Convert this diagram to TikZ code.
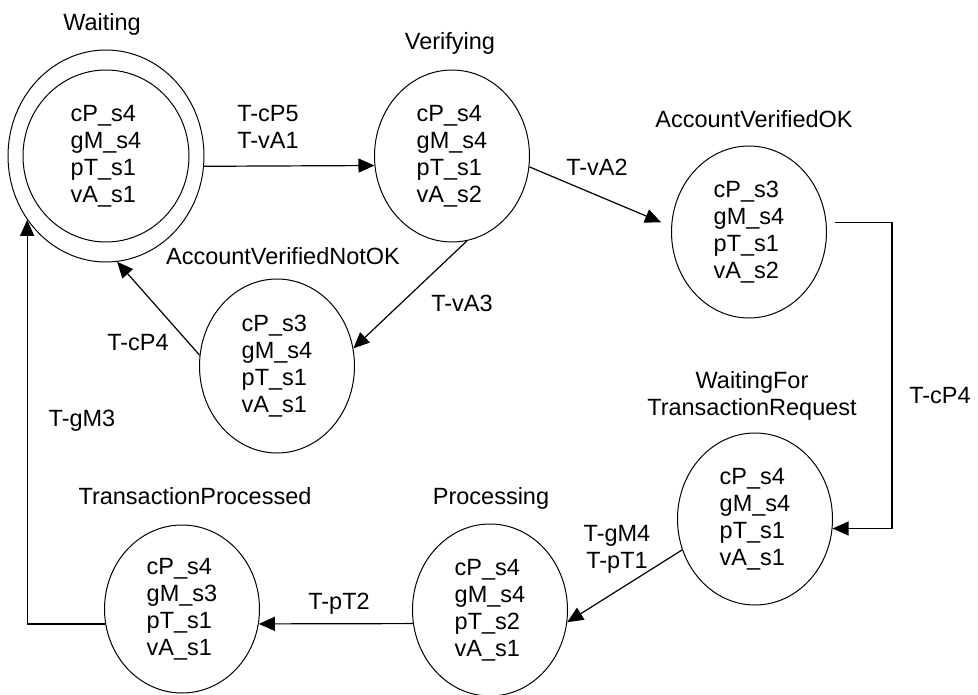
\documentclass[tikz,border=0pt]{standalone}
\usepackage{fontspec}
\setmainfont{Liberation Sans}
\usetikzlibrary{arrows.meta,shapes.geometric}

\tikzset{
  state/.style={draw,ellipse,line width=1pt,inner sep=0pt,align=left,
    minimum width=155pt,minimum height=172pt},
  title/.style={inner sep=0pt,align=center},
  trans/.style={line width=1.2pt,-{Triangle[length=16pt,width=14pt]}},
}

\begin{document}
\begin{tikzpicture}[x=1pt,y=-1pt,font=\fontsize{23.5}{27}\selectfont]
\useasboundingbox (0,0) rectangle (978,695);
% states
\node[state,minimum width=196pt,minimum height=212pt] (wait) at (106,156) {};
\node[state,minimum width=166pt,minimum height=172pt] (waitin) at (wait)
  {cP\_s4\\gM\_s4\\pT\_s1\\vA\_s1};
\node[state] (ver) at (452,156) {cP\_s4\\gM\_s4\\pT\_s1\\vA\_s2};
\node[state] (avok) at (749,232) {cP\_s3\\gM\_s4\\pT\_s1\\vA\_s2};
\node[state,minimum height=174pt] (avnok) at (277,366) {cP\_s3\\gM\_s4\\pT\_s1\\vA\_s1};
\node[state] (wftr) at (755,519) {cP\_s4\\gM\_s4\\pT\_s1\\vA\_s1};
\node[state] (proc) at (490,610) {cP\_s4\\gM\_s4\\pT\_s2\\vA\_s1};
\node[state,minimum height=168pt] (tp) at (182,609) {cP\_s4\\gM\_s3\\pT\_s1\\vA\_s1};
% state names
\node[title] (waitT) at (102,24) {Waiting};
\node[title] (verT) at (450,43) {Verifying};
\node[title] (avokT) at (754,119) {AccountVerifiedOK};
\node[title] (avnokT) at (283,256) {AccountVerifiedNotOK};
\node[title] (wftrT) at (752,396) {WaitingFor\\TransactionRequest};
\node[title] (procT) at (491,498) {Processing};
\node[title] (tpT) at (195,496) {TransactionProcessed};
% transitions
\coordinate (rt) at (892,0);
\draw[trans] (wait.-6) -- (ver.187);
\draw[trans,shorten >=11pt] (ver.-8) -- (avok.176);
\draw[trans] (ver.-80) -- (avnok.13);
\draw[trans] (avnok.172) -- (wait.-84);
\draw[trans,shorten <=8pt] (avok.7) -- (avok.7 -| rt) |- (wftr.-7);
\draw[trans] (wftr.203) -- (proc.-9);
\draw[trans] (proc.190) -- (tp.-11);
\draw[trans] (tp.191) -| (wait.219);
% transition labels
\node[title] (l1) at (268,127) {T-cP5\\T-vA1};
\node[title] (l2) at (597,167) {T-vA2};
\node[title] (l3) at (462,303) {T-vA3};
\node[title] (l4) at (138,343) {T-cP4};
\node[title] (l5) at (940,396) {T-cP4};
\node[title] (l6) at (617,549) {T-gM4\\T-pT1};
\node[title] (l7) at (339,604) {T-pT2};
\node[title] (l8) at (82,421) {T-gM3};
\end{tikzpicture}
\end{document}
